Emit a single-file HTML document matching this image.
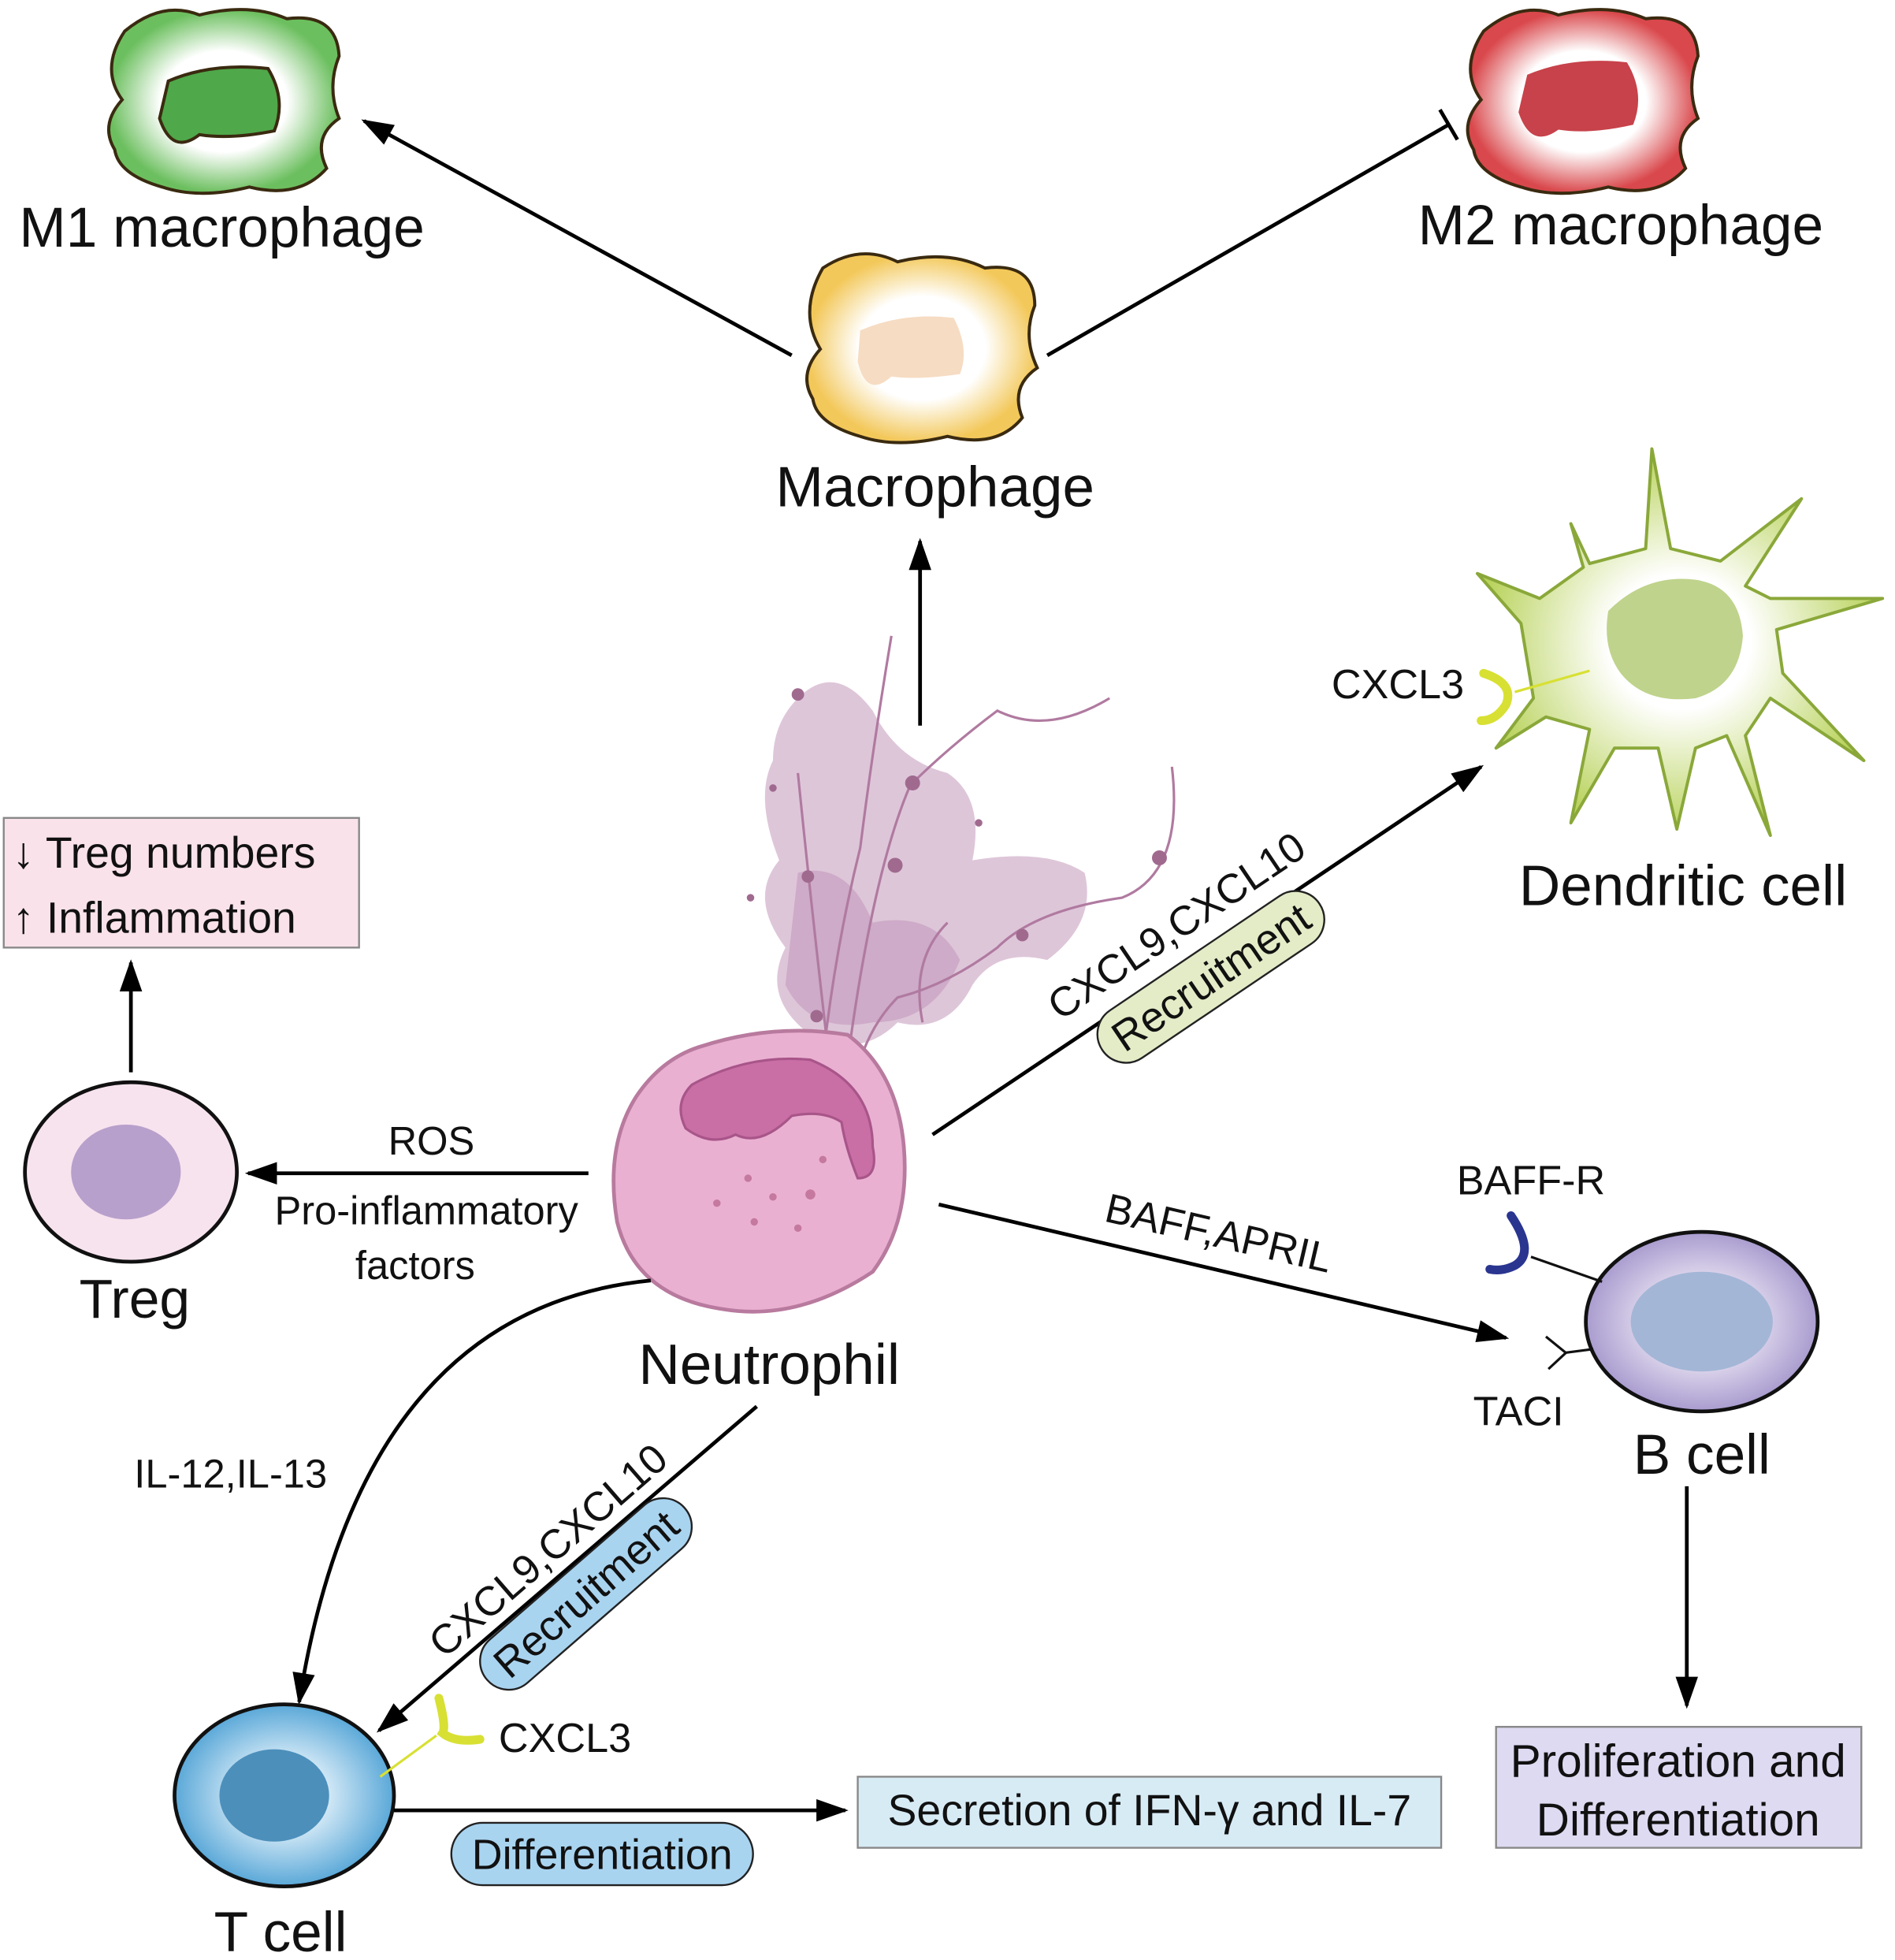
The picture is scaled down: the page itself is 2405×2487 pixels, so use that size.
<!DOCTYPE html>
<html><head><meta charset="utf-8"><style>
html,body{margin:0;padding:0;background:#fff;}
svg{display:block;}
text{font-family:"Liberation Sans","DejaVu Sans",sans-serif;fill:#111;}
</style></head><body>
<svg width="2405" height="2487" viewBox="0 0 1520 1572" preserveAspectRatio="none" xmlns="http://www.w3.org/2000/svg">
<defs>
<marker id="a" viewBox="0 0 20 14" refX="18" refY="7" markerWidth="26" markerHeight="18" orient="auto" markerUnits="userSpaceOnUse"><path d="M0,0 L20,7 L0,14 Z" fill="#000"/></marker>
<radialGradient id="gG"><stop offset="0.55" stop-color="#fff"/><stop offset="1" stop-color="#6cbf5f"/></radialGradient>
<radialGradient id="gR"><stop offset="0.55" stop-color="#fff"/><stop offset="1" stop-color="#d9484c"/></radialGradient>
<radialGradient id="gY"><stop offset="0.55" stop-color="#fff"/><stop offset="1" stop-color="#f3c85a"/></radialGradient>
<radialGradient id="gD"><stop offset="0.35" stop-color="#fff"/><stop offset="1" stop-color="#b8d25a"/></radialGradient>
<radialGradient id="gT"><stop offset="0.3" stop-color="#e6f3fb"/><stop offset="1" stop-color="#5aa8d8"/></radialGradient>
<radialGradient id="gB"><stop offset="0.3" stop-color="#f3eef8"/><stop offset="1" stop-color="#a99ccf"/></radialGradient>
</defs>

<!-- M1 -->
<path d="M100,25 Q130,0 160,12 Q200,2 230,15 Q270,10 272,45 Q262,70 272,95 Q250,110 262,135 Q240,160 200,150 Q160,160 130,150 Q95,140 92,120 Q80,100 98,80 Q80,55 100,25Z" fill="url(#gG)" stroke="#3a2a10" stroke-width="2.5"/>
<path d="M135,65 Q170,50 215,55 Q230,80 220,105 Q185,112 160,108 Q138,125 128,95 Z" fill="#4fa84a" stroke="#3a2a10" stroke-width="2.5"/>
<text x="178" y="198" font-size="45" text-anchor="middle">M1 macrophage</text>
<!-- M2 -->
<path d="M1190,25 Q1220,0 1250,12 Q1290,2 1320,15 Q1360,10 1362,45 Q1352,70 1362,95 Q1340,110 1352,135 Q1330,160 1290,150 Q1250,160 1220,150 Q1185,140 1182,120 Q1170,100 1188,80 Q1170,55 1190,25Z" fill="url(#gR)" stroke="#3a2a10" stroke-width="2.5"/>
<path d="M1225,60 Q1260,45 1305,50 Q1320,75 1310,100 Q1275,108 1250,104 Q1228,120 1218,90 Z" fill="#c7424a"/>
<text x="1300" y="196" font-size="45" text-anchor="middle">M2 macrophage</text>
<!-- Macrophage -->
<path d="M660,215 Q690,195 720,210 Q760,200 790,215 Q830,210 830,245 Q820,270 832,295 Q810,310 820,335 Q800,360 760,350 Q720,360 690,350 Q655,340 652,320 Q640,300 658,280 Q640,250 660,215Z" fill="url(#gY)" stroke="#3a2a10" stroke-width="2.5"/>
<path d="M690,265 Q725,250 765,255 Q778,280 770,300 Q735,305 715,302 Q695,320 688,290Z" fill="#f6dcc3"/>
<text x="750" y="406" font-size="46" text-anchor="middle">Macrophage</text>

<line x1="635" y1="285" x2="292" y2="97" stroke="#000" stroke-width="3" marker-end="url(#a)"/>
<line x1="840" y1="285" x2="1162" y2="100" stroke="#000" stroke-width="3"/>
<line x1="1155" y1="88" x2="1169" y2="112" stroke="#000" stroke-width="3"/>
<line x1="738" y1="582" x2="738" y2="434" stroke="#000" stroke-width="3" marker-end="url(#a)"/>

<!-- Dendritic -->
<g stroke="#8aa83a" stroke-width="2.5" fill="url(#gD)" stroke-linejoin="round">
<path d="M1270,455 L1260,420 L1275,452 L1320,440 L1325,360 L1340,440 L1380,450 L1445,400 L1400,470 L1420,480 L1510,480 L1425,505 L1430,540 L1495,610 L1420,560 L1400,590 L1420,670 L1385,590 L1360,600 L1345,665 L1330,600 L1295,600 L1260,660 L1275,585 L1240,575 L1200,600 L1230,560 L1220,500 L1185,460 L1235,480 Z"/>
</g>
<path d="M1290,490 Q1320,460 1360,465 Q1395,470 1398,510 Q1395,550 1360,560 Q1320,565 1300,540 Q1285,520 1290,490Z" fill="#bfd38c"/>
<line x1="1275" y1="538" x2="1215" y2="555" stroke="#d8e033" stroke-width="2"/>
<path d="M1190,540 Q1215,548 1208,565 Q1200,578 1188,578" fill="none" stroke="#d8e033" stroke-width="7" stroke-linecap="round"/>
<text x="1068" y="560" font-size="33">CXCL3</text>
<text x="1350" y="726" font-size="46" text-anchor="middle">Dendritic cell</text>

<!-- NET cloud -->
<path d="M640,560 Q670,530 700,570 Q720,610 760,620 Q790,640 780,690 Q840,680 870,700 Q880,740 840,770 Q800,760 780,790 Q760,830 720,820 Q690,850 650,830 Q610,800 630,760 Q600,720 625,690 Q605,640 620,610 Q620,580 640,560Z" fill="#d8bcd2" opacity="0.85"/>
<path d="M640,700 Q680,690 700,740 Q750,730 770,770 Q750,820 700,820 Q650,830 630,790Z" fill="#c8a0c0" opacity="0.7"/>
<g fill="none" stroke="#b07aa0" stroke-width="2">
<path d="M715,510 Q700,600 690,680 Q670,760 660,850"/>
<path d="M640,620 Q650,720 665,850"/>
<path d="M890,560 Q840,590 800,570 Q760,600 730,630 Q700,700 680,850"/>
<path d="M940,615 Q950,700 900,720 Q830,730 800,760 Q760,790 720,800 Q700,820 690,850"/>
<path d="M760,740 Q730,770 740,820"/>
</g>
<g fill="#a06a8f"><circle cx="640" cy="557" r="5"/><circle cx="732" cy="628" r="6"/><circle cx="718" cy="694" r="6"/><circle cx="648" cy="703" r="5"/><circle cx="820" cy="750" r="5"/><circle cx="930" cy="688" r="6"/><circle cx="655" cy="815" r="5"/><circle cx="620" cy="632" r="3"/><circle cx="602" cy="720" r="3"/><circle cx="785" cy="660" r="3"/></g>
<!-- Neutrophil -->
<path d="M560,840 Q620,820 680,830 Q720,860 725,920 Q730,980 700,1020 Q640,1060 580,1050 Q510,1040 495,980 Q485,920 510,880 Q530,850 560,840Z" fill="#eab0d1" stroke="#b87a9e" stroke-width="3"/>
<path d="M555,870 Q600,845 650,850 Q700,870 700,920 Q705,945 688,945 Q678,920 675,900 Q660,890 635,895 Q610,920 590,910 Q570,920 550,905 Q540,885 555,870Z" fill="#c96fa5" stroke="#a8558a" stroke-width="2"/>
<g fill="#c5799f"><circle cx="600" cy="945" r="3"/><circle cx="620" cy="960" r="3"/><circle cx="650" cy="958" r="4"/><circle cx="575" cy="965" r="3"/><circle cx="640" cy="985" r="3"/><circle cx="605" cy="980" r="3"/><circle cx="660" cy="930" r="3"/></g>
<text x="617" y="1110" font-size="46" text-anchor="middle">Neutrophil</text>

<!-- arrow to DC -->
<line x1="748" y1="910" x2="1188" y2="615" stroke="#000" stroke-width="3" marker-end="url(#a)"/>
<g transform="translate(950,752) rotate(-34)">
<text x="0" y="0" font-size="33" text-anchor="middle">CXCL9,CXCL10</text>
<rect x="-105" y="15" width="210" height="46" rx="23" fill="#e3ecc7" stroke="#222" stroke-width="1.5"/>
<text x="0" y="50" font-size="34" text-anchor="middle">Recruitment</text>
</g>

<!-- Treg -->
<ellipse cx="105" cy="940" rx="85" ry="72" fill="#f7e3ee" stroke="#111" stroke-width="3"/>
<ellipse cx="101" cy="940" rx="44" ry="38" fill="#b8a0cc"/>
<text x="108" y="1057" font-size="44" text-anchor="middle">Treg</text>
<line x1="472" y1="941" x2="199" y2="941" stroke="#000" stroke-width="3" marker-end="url(#a)"/>
<text x="346" y="926" font-size="32" text-anchor="middle">ROS</text>
<text x="342" y="982" font-size="32" text-anchor="middle">Pro-inflammatory</text>
<text x="333" y="1026" font-size="32" text-anchor="middle">factors</text>
<line x1="105" y1="860" x2="105" y2="772" stroke="#000" stroke-width="3" marker-end="url(#a)"/>
<rect x="3" y="656" width="285" height="104" fill="#f9e2ea" stroke="#888" stroke-width="1.5"/>
<text x="10" y="696" font-size="35">↓ Treg numbers</text>
<text x="10" y="748" font-size="35">↑ Inflammation</text>

<!-- B cell -->
<line x1="753" y1="966" x2="1208" y2="1073" stroke="#000" stroke-width="3" marker-end="url(#a)"/>
<text transform="translate(975,1000) rotate(13)" font-size="33" text-anchor="middle">BAFF,APRIL</text>
<ellipse cx="1365" cy="1060" rx="93" ry="72" fill="url(#gB)" stroke="#111" stroke-width="3"/>
<ellipse cx="1365" cy="1060" rx="57" ry="40" fill="#a3b6d6"/>
<line x1="1228" y1="1008" x2="1285" y2="1028" stroke="#111" stroke-width="2"/>
<path d="M1212,975 Q1232,1005 1215,1015 Q1205,1020 1195,1018" fill="none" stroke="#2a3590" stroke-width="7" stroke-linecap="round"/>
<line x1="1255" y1="1085" x2="1278" y2="1082" stroke="#111" stroke-width="2"/>
<path d="M1240,1072 L1256,1085 L1242,1098" fill="none" stroke="#111" stroke-width="2"/>
<text x="1228" y="958" font-size="33" text-anchor="middle">BAFF-R</text>
<text x="1218" y="1143" font-size="33" text-anchor="middle">TACI</text>
<text x="1365" y="1182" font-size="45" text-anchor="middle">B cell</text>
<line x1="1353" y1="1192" x2="1353" y2="1368" stroke="#000" stroke-width="3" marker-end="url(#a)"/>
<rect x="1200" y="1385" width="293" height="97" fill="#dedaf2" stroke="#888" stroke-width="1.5"/>
<text x="1346" y="1425" font-size="37" text-anchor="middle">Proliferation and</text>
<text x="1346" y="1472" font-size="37" text-anchor="middle">Differentiation</text>

<!-- T cell -->
<path d="M522,1027 Q290,1050 240,1365" fill="none" stroke="#000" stroke-width="3" marker-end="url(#a)"/>
<text x="185" y="1193" font-size="32" text-anchor="middle">IL-12,IL-13</text>
<line x1="607" y1="1128" x2="304" y2="1388" stroke="#000" stroke-width="3" marker-end="url(#a)"/>
<g transform="translate(447,1252) rotate(-41)">
<text x="0" y="0" font-size="33" text-anchor="middle">CXCL9,CXCL10</text>
<rect x="-105" y="12" width="210" height="46" rx="23" fill="#a9d4f0" stroke="#222" stroke-width="1.5"/>
<text x="0" y="47" font-size="34" text-anchor="middle">Recruitment</text>
</g>
<ellipse cx="228" cy="1440" rx="88" ry="73" fill="url(#gT)" stroke="#111" stroke-width="3"/>
<ellipse cx="220" cy="1440" rx="44" ry="37" fill="#4c8fbb"/>
<line x1="305" y1="1425" x2="350" y2="1392" stroke="#d8e033" stroke-width="2"/>
<path d="M352,1362 Q358,1385 355,1390 Q365,1398 385,1395" fill="none" stroke="#d8e033" stroke-width="7" stroke-linecap="round"/>
<text x="400" y="1405" font-size="33">CXCL3</text>
<text x="225" y="1565" font-size="45" text-anchor="middle">T cell</text>
<line x1="316" y1="1452" x2="678" y2="1452" stroke="#000" stroke-width="3" marker-end="url(#a)"/>
<rect x="688" y="1425" width="468" height="57" fill="#d7ebf5" stroke="#888" stroke-width="1.5"/>
<text x="922" y="1464" font-size="35" text-anchor="middle">Secretion of IFN-γ and IL-7</text>
<rect x="362" y="1462" width="242" height="50" rx="25" fill="#a9d4f0" stroke="#222" stroke-width="1.5"/>
<text x="483" y="1499" font-size="34" text-anchor="middle">Differentiation</text>
</svg>
</body></html>
